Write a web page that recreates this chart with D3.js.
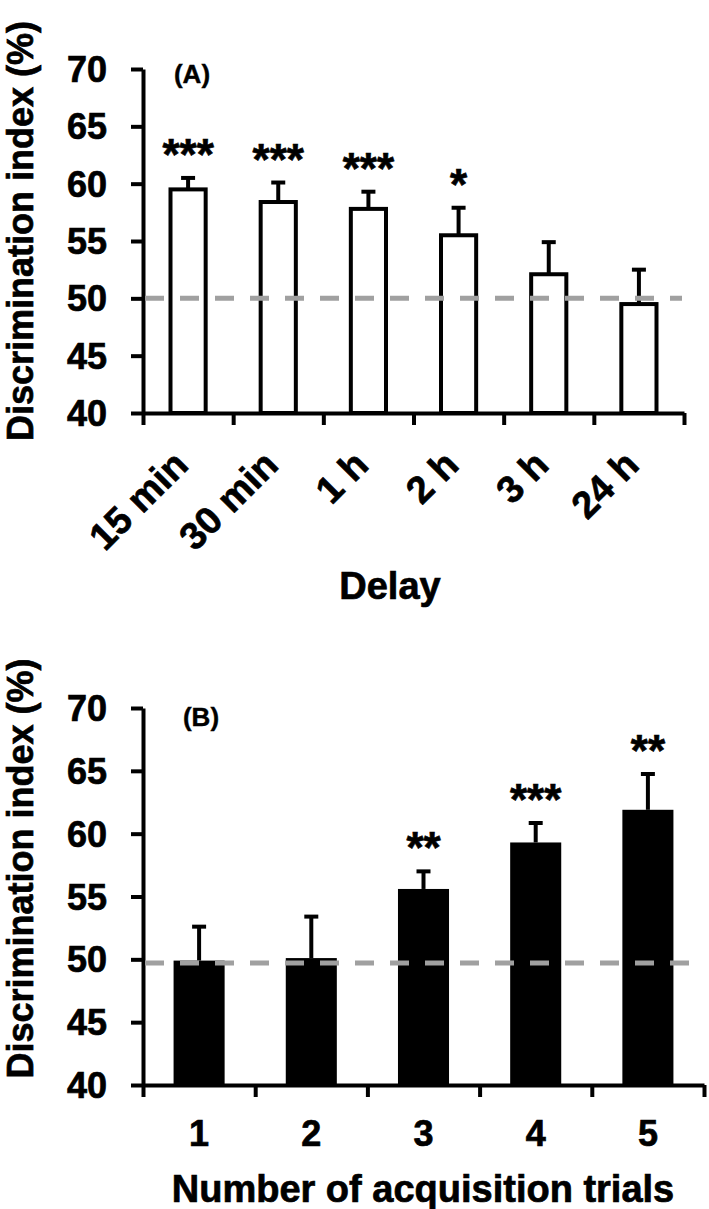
<!DOCTYPE html>
<html>
<head>
<meta charset="utf-8">
<script src="https://cdn.jsdelivr.net/npm/d3@7"></script>
<style>
  body { margin: 0; background: #fff; }
  text { font-family: "Liberation Sans", Arial, sans-serif; font-weight: bold; fill: #000; stroke: #000; stroke-width: 0.7px; }
</style>
</head>
<body>
<div id="chart"></div>
<script>
// Panel A: delay between acquisition and test
var delays = ["15 min", "30 min", "1 h", "2 h", "3 h", "24 h"];
var delayMeans = [59.5, 58.4, 57.8, 55.5, 52.1, 49.5];
var delaySem = [1.0, 1.7, 1.5, 2.4, 2.8, 3.0];
var delayStars = ["***", "***", "***", "*", "", ""];

// Panel B: number of acquisition trials
var trials = ["1", "2", "3", "4", "5"];
var trialMeans = [49.9, 50.1, 55.6, 59.3, 61.9];
var trialSem = [2.7, 3.3, 1.4, 1.55, 2.85];
var trialStars = ["", "", "**", "***", "**"];

var yTicks = [40, 45, 50, 55, 60, 65, 70];
var chanceA = 50;
var chanceB = 49.7;

var svgWidth = 709;
var svgHeight = 1209;

var svg = d3.select("#chart")
  .append("svg")
  .attr("width", svgWidth)
  .attr("height", svgHeight);

function drawPanel(p) {
  var g = svg.append("g")
    .attr("transform", `translate(${p.left}, ${p.top})`);

  var y = d3.scaleLinear().domain([40, 70]).range([p.height, 0]);
  var x = d3.scaleBand()
    .domain(p.cats)
    .range([0, p.width])
    .paddingInner(p.pad)
    .paddingOuter(p.pad / 2);

  // edges of each category, for the tick marks between bars
  var xEdge = d3.scaleLinear().domain([0, p.cats.length]).range([0, p.width]);

  var data = p.cats.map(function(c, i) {
    return { cat: c, mean: p.means[i], sem: p.sem[i], stars: p.stars[i] };
  });

  // bars
  g.selectAll("rect.bar")
    .data(data)
    .enter()
    .append("rect")
    .attr("class", "bar")
    .attr("x", d => x(d.cat))
    .attr("y", d => y(d.mean))
    .attr("width", x.bandwidth())
    .attr("height", d => y(40) - y(d.mean))
    .attr("fill", p.fill)
    .attr("stroke", "#000")
    .attr("stroke-width", p.fill === "#fff" ? 4 : 0);

  // error bars (upper half only)
  var cx = d => x(d.cat) + x.bandwidth() / 2;
  g.selectAll("line.err")
    .data(data)
    .enter()
    .append("line")
    .attr("x1", cx).attr("x2", cx)
    .attr("y1", d => y(d.mean))
    .attr("y2", d => y(d.mean + d.sem))
    .attr("stroke", "#000")
    .attr("stroke-width", 4);

  g.selectAll("line.cap")
    .data(data)
    .enter()
    .append("line")
    .attr("x1", d => cx(d) - 7).attr("x2", d => cx(d) + 7)
    .attr("y1", d => y(d.mean + d.sem))
    .attr("y2", d => y(d.mean + d.sem))
    .attr("stroke", "#000")
    .attr("stroke-width", 4);

  // significance stars
  g.selectAll("text.star")
    .data(data)
    .enter()
    .append("text")
    .attr("x", cx)
    .attr("y", d => y(d.mean + d.sem) - 8)
    .attr("text-anchor", "middle")
    .style("font-size", "44px")
    .text(d => d.stars);

  // y axis
  var yAxis = g.append("g")
    .call(d3.axisLeft(y).tickValues(yTicks).tickSize(12).tickSizeOuter(0).tickPadding(24));
  yAxis.selectAll("path, line").attr("stroke", "#000").attr("stroke-width", 4);
  yAxis.selectAll("text").style("font-size", "36px").attr("dy", "0.35em");

  // x axis with ticks at the category edges
  var xAxis = g.append("g")
    .attr("transform", `translate(0, ${p.height})`)
    .call(d3.axisBottom(xEdge).tickValues(d3.range(p.cats.length + 1)).tickFormat("").tickSize(12).tickSizeOuter(0));
  xAxis.selectAll("path, line").attr("stroke", "#000").attr("stroke-width", 4);

  // chance level
  g.append("line")
    .attr("x1", 2).attr("x2", p.width - 2)
    .attr("y1", y(p.chance)).attr("y2", y(p.chance))
    .attr("stroke", "#a0a0a0")
    .attr("stroke-width", 5)
    .attr("stroke-dasharray", "19,16");

  // category labels
  if (p.rotate) {
    g.selectAll("text.cat")
      .data(data)
      .enter()
      .append("text")
      .attr("transform", d => `translate(${cx(d) + 2}, ${p.height + 54}) rotate(-45)`)
      .attr("text-anchor", "end")
      .style("font-size", "38px")
      .text(d => d.cat);
  } else {
    g.selectAll("text.cat")
      .data(data)
      .enter()
      .append("text")
      .attr("x", cx)
      .attr("y", p.height + 61)
      .attr("text-anchor", "middle")
      .style("font-size", "36px")
      .text(d => d.cat);
  }

  // panel letter
  g.append("text")
    .attr("x", p.letterX)
    .attr("y", 14 + p.letterDy)
    .attr("text-anchor", "middle")
    .style("font-size", "26px")
    .style("stroke-width", "0.4px")
    .text(p.letter);

  // axis titles
  g.append("text")
    .attr("transform", `translate(${33 - p.left}, ${p.height / 2 + p.titleShift}) rotate(-90)`)
    .attr("text-anchor", "middle")
    .style("font-size", "36px")
    .text("Discrimination index (%)");

  g.append("text")
    .attr("x", p.xTitleX)
    .attr("y", p.height + p.xTitleDy)
    .attr("text-anchor", "middle")
    .style("font-size", "38px")
    .text(p.xTitle);
}

drawPanel({
  left: 143, top: 69, width: 541, height: 344,
  cats: delays, means: delayMeans, sem: delaySem, stars: delayStars,
  pad: 0.61, fill: "#fff", chance: chanceA, rotate: true,
  letter: "(A)", letterX: 49, letterDy: 0,
  titleShift: -10,
  xTitle: "Delay", xTitleX: 247, xTitleDy: 186
});

drawPanel({
  left: 143, top: 708, width: 561, height: 377,
  cats: trials, means: trialMeans, sem: trialSem, stars: trialStars,
  pad: 0.545, fill: "#000", chance: chanceB, rotate: false,
  letter: "(B)", letterX: 58, letterDy: 4,
  titleShift: -28,
  xTitle: "Number of acquisition trials", xTitleX: 280, xTitleDy: 117
});
</script>
</body>
</html>
